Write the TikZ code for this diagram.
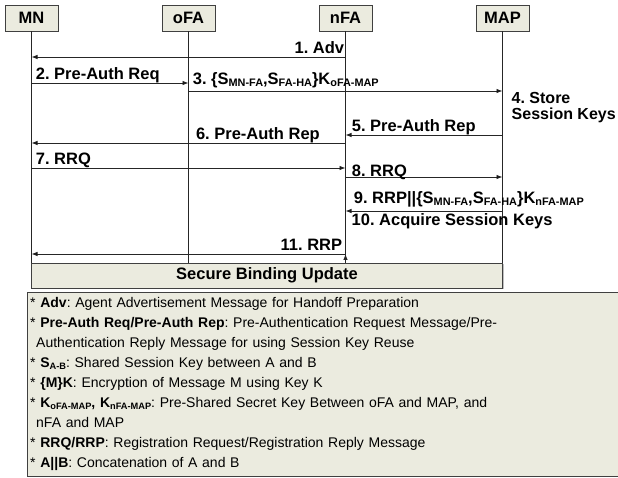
\documentclass[tikz,border=0pt]{standalone}
\usepackage{fontspec}
\usepackage{graphicx}
\setmainfont{Liberation Sans}
\usetikzlibrary{arrows.meta,positioning,shadows}
\frenchspacing

\definecolor{boxfill}{RGB}{235,235,223}
\newcommand{\sub}[1]{\raisebox{-1.5pt}{\scalebox{0.66}{#1}}}

\begin{document}
\begin{tikzpicture}[x=1pt,y=-1pt,>={Latex[length=6pt,width=4.5pt]},node distance=157pt,
  actor/.style={draw=black!75,fill=boxfill,minimum width=53pt,minimum height=26pt,inner sep=0pt,
    font=\fontsize{16.5}{16.5}\selectfont\bfseries,
    drop shadow={shadow xshift=1pt,shadow yshift=-1pt,opacity=0.5}},
  msg/.style={->,draw=black!85,line width=0.8pt},
  lbl/.style={font=\fontsize{16.5}{16.5}\selectfont\bfseries,inner xsep=4pt,inner ysep=0pt,anchor=base west,yshift=3pt}]

\clip (0,0) rectangle (618,478);

\node[actor]   (mn)  at (31.5,18)  {MN};
\node[actor]   (ofa) [right of=mn]  {oFA};
\node[actor]   (nfa) [right of=ofa] {nFA};
\node[actor]   (map) [right of=nfa] {MAP};

% lifelines
\foreach \n in {mn,ofa,nfa,map}
  \draw[black!85,line width=0.8pt] (\n.south) -- (\n |- 0,263);

	\path[msg] (nfa |- 0,57)  edge	node[lbl,pos=0,anchor=base east,xshift=3pt]{1. Adv} 	(mn |- 0,57)
						(mn |- 0,83)   edge	node[lbl,pos=0]{2. Pre-Auth Req} 	(ofa |- 0,83)
						(ofa |- 0,91)  edge	node[lbl,pos=0,yshift=3pt]{3. \{S\sub{MN-FA},S\sub{FA-HA}\}K\sub{oFA-MAP}} 	(map |- 0,91)
						(map |- 0,135) edge	node[lbl,pos=1,xshift=2pt]{5. Pre-Auth Rep} 	(nfa |- 0,135)
						(nfa |- 0,143) edge	node[lbl,pos=0.49]{6. Pre-Auth Rep} 	(mn |- 0,143)
						(mn |- 0,168)  edge	node[lbl,pos=0]{7. RRQ} 	(nfa |- 0,168)
						(nfa |- 0,177) edge	node[lbl,pos=0,xshift=2pt,yshift=-3pt]{8. RRQ} 	(map |- 0,177)
						(map |- 0,211) edge	node[lbl,pos=1,xshift=4pt,yshift=4pt]{9. RRP||\{S\sub{MN-FA},S\sub{FA-HA}\}K\sub{nFA-MAP}} 	(nfa |- 0,211)
						(nfa |- 0,254) edge	node[lbl,pos=0,anchor=base east,xshift=1pt]{11. RRP} 	(mn |- 0,254);

\node[lbl,anchor=north west,align=left,font=\fontsize{16}{16}\selectfont\bfseries,xshift=5pt,yshift=-3pt] (store) at (map |- 0,92) {4. Store\\Session Keys};
\node[lbl,xshift=2pt,yshift=0pt] (acquire) at (nfa |- 0,229) {10. Acquire Session Keys};

\node[draw=black!75,fill=boxfill,minimum width=471pt,minimum height=25pt,inner sep=0pt,
  font=\fontsize{16.5}{16.5}\selectfont\bfseries,drop shadow={shadow xshift=1pt,shadow yshift=-1pt,opacity=0.5}]
  (sbu) at (267,275.5) {Secure Binding Update};

\node[draw=black!75,fill=boxfill,anchor=north west,text width=600pt,minimum height=184pt,
  align=left,inner xsep=3pt,inner ysep=5.5pt,font=\fontsize{14}{20}\selectfont,
  drop shadow={shadow xshift=1pt,shadow yshift=-1pt,opacity=0.5}] (legend) at (27,292)
 {{*} \textbf{Adv}: Agent Advertisement Message for Handoff Preparation\\
  {*} \textbf{Pre-Auth Req/Pre-Auth Rep}: Pre-Authentication Request Message/Pre-\\
  \hspace*{6pt}Authentication Reply Message for using Session Key Reuse\\
  {*} \textbf{S\sub{A-B}}: Shared Session Key between A and B\\
  {*} \textbf{\{M\}K}: Encryption of Message M using Key K\\
  {*} \textbf{K\sub{oFA-MAP}, K\sub{nFA-MAP}}: Pre-Shared Secret Key Between oFA and MAP, and\\
  \hspace*{6pt}nFA and MAP\\
  {*} \textbf{RRQ/RRP}: Registration Request/Registration Reply Message\\
  {*} \textbf{A||B}: Concatenation of A and B};
\end{tikzpicture}
\end{document}
